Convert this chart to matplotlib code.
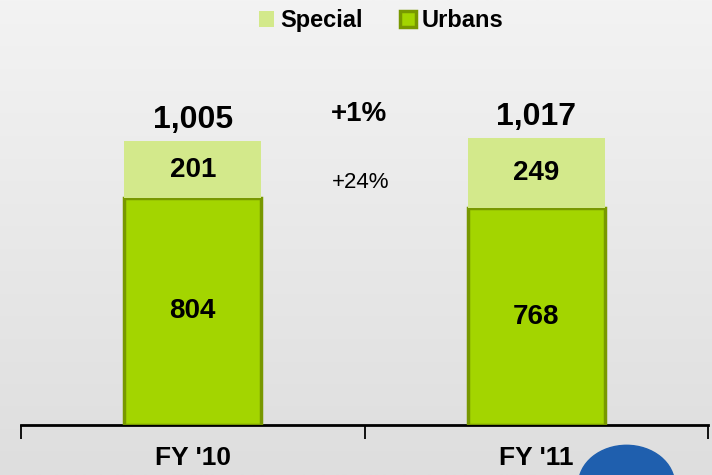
import matplotlib
matplotlib.use("Agg")
import matplotlib.pyplot as plt
import numpy as np
from matplotlib.patches import Ellipse

categories = ["FY '10", "FY '11"]
urbans = [804, 768]
special = [201, 249]
totals = [1005, 1017]
growth_total = "+1%"
growth_special = "+24%"

plt.rcParams['font.family'] = ['Liberation Sans', 'DejaVu Sans']
plt.rcParams['hatch.color'] = '#c6e07c'
plt.rcParams['hatch.linewidth'] = 0.6

fig = plt.figure(figsize=(7.12, 4.75), dpi=100)
# gradient background
bg = fig.add_axes([0, 0, 1, 1], zorder=-10)
grad = np.linspace(0, 1, 256).reshape(-1, 1)
bg.imshow(grad, aspect='auto', cmap=matplotlib.colors.LinearSegmentedColormap.from_list(
    'g', ['#f3f3f3', '#dedede']), extent=[0, 1, 0, 1], origin='upper')
bg.set_axis_off()
bg.add_patch(Ellipse((0.88, -0.02), 0.135, 0.165, color='#1f5fae', transform=bg.transAxes))

ax = fig.add_axes([21/712, 50/475, 687/712, 425/475])
ax.patch.set_alpha(0)
x = np.arange(len(categories))
w = 0.4
ax.bar(x, urbans, w, color='#a3d500', edgecolor='#789800', linewidth=2.5, label='Urbans', zorder=3)
ax.bar(x, special, w, bottom=urbans, color='#d3e98b', edgecolor='#d3e98b', linewidth=0,
       hatch='.....', label='Special', zorder=3)

for i in range(len(categories)):
    ax.text(x[i], urbans[i] / 2, f"{urbans[i]:,}", ha='center', va='center',
            fontsize=20, fontweight='bold', zorder=5)
    ax.text(x[i], urbans[i] + special[i] / 2, f"{special[i]:,}", ha='center', va='center',
            fontsize=20, fontweight='bold', zorder=5)
    ax.text(x[i], totals[i] + 75, f"{totals[i]:,}", ha='center', va='center',
            fontsize=23, fontweight='bold')

ax.text(0.485, 1101, growth_total, ha='center', va='center', fontsize=20, fontweight='bold')
ax.text(0.488, 857, growth_special, ha='center', va='center', fontsize=16)

ax.set_xlim(-0.5, 1.5)
ax.set_ylim(0, 1505)
ax.set_yticks([])
for s in ['top', 'right', 'left']:
    ax.spines[s].set_visible(False)
ax.spines['bottom'].set_linewidth(2)
ax.set_xticks(x)
ax.set_xticklabels(categories, fontsize=19, fontweight='bold')
ax.tick_params(axis='x', which='major', length=0, pad=15)
ax.set_xticks([-0.5, 0.5, 1.5], minor=True)
ax.tick_params(axis='x', which='minor', length=10, width=1.3, direction='out')

handles, labels = ax.get_legend_handles_labels()
fig.legend(handles[::-1], labels[::-1], loc='upper center', bbox_to_anchor=(0.535, 1.025),
           ncol=2, frameon=False, prop={'weight': 'bold', 'size': 17},
           handlelength=0.65, handleheight=0.65, handletextpad=0.25, columnspacing=1.6)

fig.savefig('out.png', dpi=100)
